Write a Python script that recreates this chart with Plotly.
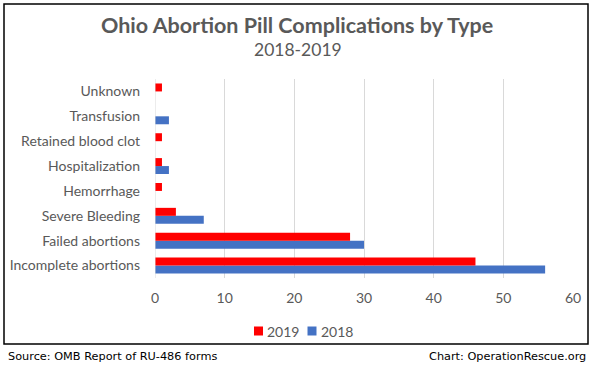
import plotly.graph_objects as go

categories = ["Incomplete abortions", "Failed abortions", "Severe Bleeding", "Hemorrhage",
              "Hospitalization", "Retained blood clot", "Transfusion", "Unknown"]
values_2019 = [46, 28, 3, 1, 1, 1, 0, 1]
values_2018 = [56, 30, 7, 0, 2, 0, 2, 0]
x_ticks = [0, 10, 20, 30, 40, 50, 60]
series_names = ["2019", "2018"]
series_colors = ["#FF0000", "#4472C4"]

W, H = 594, 371
L, R, T, B = 155, 21, 79, 93
pw, ph = W - L - R, H - T - B

def px_x(p):
    return (p - L) / pw

def px_y(p):
    return (H - B - p) / ph

fig = go.Figure()
fig.add_trace(go.Bar(y=categories, x=values_2018, name=series_names[1], orientation="h",
                     marker=dict(color=series_colors[1], line=dict(width=0))))
fig.add_trace(go.Bar(y=categories, x=values_2019, name=series_names[0], orientation="h",
                     marker=dict(color=series_colors[0], line=dict(width=0))))

font_main = "Lato, 'Open Sans', sans-serif"
fig.update_layout(
    width=W, height=H,
    margin=dict(l=L, r=R, t=T, b=B, pad=0, autoexpand=False),
    paper_bgcolor="white", plot_bgcolor="white",
    barmode="group", bargap=0.36, bargroupgap=0,
    showlegend=False,
    font=dict(family=font_main, color="#595959"),
    xaxis=dict(range=[0, 60], tickvals=x_ticks, showgrid=True, gridcolor="#D9D9D9",
               gridwidth=1, zeroline=False, showline=False, ticks="",
               tickfont=dict(size=14, color="#595959"), fixedrange=True, tickangle=0,
               automargin=False),
    yaxis=dict(categoryorder="array", categoryarray=categories, showgrid=False,
               showline=False, ticks="", automargin=False,
               tickfont=dict(size=14, color="#595959"), fixedrange=True),
)
fig.update_xaxes(ticklabelstandoff=10)
fig.update_yaxes(ticklabelstandoff=14)
# Zero line (axis line at 0)
fig.add_shape(type="line", xref="x", yref="paper", x0=0, x1=0, y0=0, y1=1,
              line=dict(color="#D9D9D9", width=1))
# Outer border
fig.add_shape(type="rect", xref="paper", yref="paper",
              x0=px_x(4), x1=px_x(588), y0=px_y(344), y1=px_y(4),
              line=dict(color="black", width=1.5), fillcolor="rgba(0,0,0,0)", layer="above")

# Legend (manual, to match the compact Excel layout)
legend_sq = [(254, 263), (307.5, 316.5)]
legend_txt = [265, 318.5]
for (x0, x1), tx, name, col in zip(legend_sq, legend_txt, series_names, series_colors):
    fig.add_shape(type="rect", xref="paper", yref="paper",
                  x0=px_x(x0), x1=px_x(x1), y0=px_y(335.5), y1=px_y(326.5),
                  line=dict(width=0), fillcolor=col)
    fig.add_annotation(text=name, xref="paper", yref="paper", x=px_x(tx), y=px_y(331),
                       showarrow=False, xanchor="left", yanchor="middle",
                       font=dict(family=font_main, size=14, color="#595959"))

fig.add_annotation(text="<b>Ohio Abortion Pill Complications by Type</b>", xref="paper", yref="paper",
                   x=px_x(297), y=px_y(25), showarrow=False, xanchor="center", yanchor="middle",
                   font=dict(family=font_main, size=21.5, color="#595959"))
fig.add_annotation(text="2018-2019", xref="paper", yref="paper",
                   x=px_x(298), y=px_y(49), showarrow=False, xanchor="center", yanchor="middle",
                   font=dict(family=font_main, size=17.5, color="#595959"))
fig.add_annotation(text="Source: OMB Report of RU-486 forms", xref="paper", yref="paper",
                   x=px_x(6), y=px_y(356), showarrow=False, xanchor="left", yanchor="middle",
                   font=dict(family="DejaVu Sans, Verdana, sans-serif", size=11.3, color="black"))
fig.add_annotation(text="Chart: OperationRescue.org", xref="paper", yref="paper",
                   x=px_x(588), y=px_y(356), showarrow=False, xanchor="right", yanchor="middle",
                   font=dict(family="DejaVu Sans, Verdana, sans-serif", size=11.3, color="black"))

fig.write_html("out.html", config={"displayModeBar": False},
               post_script="document.body.style.margin='0';")
